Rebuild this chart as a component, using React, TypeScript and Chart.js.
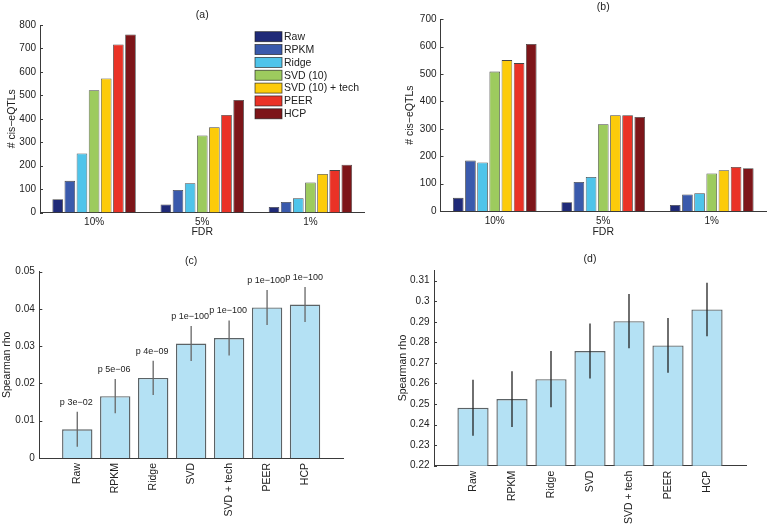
import React, { useEffect, useRef } from "react";
import { Chart, registerables } from "chart.js";
Chart.register(...registerables);

const FONT = '"Liberation Sans", Arial, Helvetica, sans-serif';
const CW = 770;
const CH = 526;

// ---------- data ----------
const fdrLabels = ["10%", "5%", "1%"];
const methodNames = ["Raw", "RPKM", "Ridge", "SVD (10)", "SVD (10) + tech", "PEER", "HCP"];
const methodColors = ["#1f2a78", "#3a5aac", "#4fc4ea", "#9dcb5e", "#fccb0a", "#ea3226", "#7d1519"];

// panel (a): values per method across FDR 10%, 5%, 1%
const aRaw = [57, 34, 24];
const aRPKM = [135, 96, 45];
const aRidge = [252, 125, 61];
const aSVD = [522, 329, 128];
const aSVDtech = [572, 364, 164];
const aPEER = [717, 416, 181];
const aHCP = [760, 480, 204];

// panel (b)
const bRaw = [48, 32, 22];
const bRPKM = [184, 106, 60];
const bRidge = [177, 124, 65];
const bSVD = [509, 317, 137];
const bSVDtech = [551, 350, 149];
const bPEER = [540, 350, 161];
const bHCP = [610, 343, 156];

// panels (c), (d)
const cdLabels = ["Raw", "RPKM", "Ridge", "SVD", "SVD + tech", "PEER", "HCP"];
const cValues = [0.0077, 0.0166, 0.0215, 0.0307, 0.0322, 0.0404, 0.0412];
const cErr = [0.0047, 0.0046, 0.0046, 0.0047, 0.0047, 0.0047, 0.0047];
const cPvals = ["p 3e\u221202", "p 5e\u221206", "p 4e\u221209", "p 1e\u2212100", "p 1e\u2212100", "p 1e\u2212100", "p 1e\u2212100"];
const dValues = [0.2482, 0.2524, 0.2621, 0.2758, 0.2903, 0.2785, 0.296];
const dErr = [0.0136, 0.0136, 0.0137, 0.0134, 0.0132, 0.0133, 0.013];

const cTickValues = [0, 0.01, 0.02, 0.03, 0.04, 0.05];
const dTickValues = [0.22, 0.23, 0.24, 0.25, 0.26, 0.27, 0.28, 0.29, 0.3, 0.31];
const cRange = { min: 0, max: 0.05 };
const dRange = { min: 0.22, max: 0.315 };

// ---------- helpers ----------
const fmt = (v: number) => String(Math.round(v * 1000) / 1000);
const TXT = "#222";
const AXIS = "#3a3a3a";

function makeTitle(text: string, dy: number) {
  return {
    id: "panelTitle",
    afterDraw(chart: any) {
      const { ctx, chartArea } = chart;
      ctx.save();
      ctx.font = `10.5px ${FONT}`;
      ctx.fillStyle = TXT;
      ctx.textAlign = "center";
      ctx.textBaseline = "middle";
      ctx.fillText(text, (chartArea.left + chartArea.right) / 2, chartArea.top - dy);
      ctx.restore();
    },
  };
}

const inwardTicks = {
  id: "inwardTicks",
  afterDraw(chart: any) {
    const { ctx, chartArea } = chart;
    const y = chart.scales.y;
    ctx.save();
    ctx.strokeStyle = AXIS;
    ctx.lineWidth = 1;
    for (const t of y.ticks) {
      const py = Math.round(y.getPixelForValue(t.value)) + 0.5;
      ctx.beginPath();
      ctx.moveTo(chartArea.left, py);
      ctx.lineTo(chartArea.left + 3, py);
      ctx.stroke();
    }
    ctx.restore();
  },
};

function makeLegend(x: number, y0: number, row: number, bw: number, bh: number) {
  return {
    id: "boxLegend",
    afterDraw(chart: any) {
      const { ctx } = chart;
      ctx.save();
      ctx.font = `10.5px ${FONT}`;
      ctx.textAlign = "left";
      ctx.textBaseline = "middle";
      chart.data.datasets.forEach((ds: any, i: number) => {
        const y = y0 + i * row;
        ctx.fillStyle = ds.backgroundColor;
        ctx.fillRect(x, y, bw, bh);
        ctx.strokeStyle = "rgba(30,30,30,0.8)";
        ctx.lineWidth = 0.8;
        ctx.strokeRect(x, y, bw, bh);
        ctx.fillStyle = TXT;
        ctx.fillText(ds.label, x + bw + 2, y + bh / 2 + 0.5);
      });
      ctx.restore();
    },
  };
}

function makePLabels(labels: string[], values: number[], errs: number[], dy: number) {
  return {
    id: "pLabels",
    afterDatasetsDraw(chart: any) {
      const { ctx } = chart;
      const xs = chart.scales.x;
      const ys = chart.scales.y;
      ctx.save();
      ctx.font = `9px ${FONT}`;
      ctx.fillStyle = TXT;
      ctx.textAlign = "center";
      ctx.textBaseline = "middle";
      labels.forEach((t, i) => {
        const px = xs.getPixelForValue(i + 1);
        const py = ys.getPixelForValue(values[i] + errs[i]);
        ctx.fillText(t, px - 1, py - dy);
      });
      ctx.restore();
    },
  };
}

function groupedConfig(series: number[][], ymax: number, pad: any, yW: number, xH: number, yTitlePad: number, title: string, titleDy: number, extra: any[]) {
  return {
    type: "bar",
    data: {
      labels: fdrLabels,
      datasets: methodNames.map((n, i) => ({
        label: n,
        data: series[i],
        backgroundColor: methodColors[i],
        borderColor: "rgba(35,35,35,0.85)",
        borderWidth: 0.8,
        categoryPercentage: 0.785,
        barPercentage: 0.875,
      })),
    },
    options: {
      responsive: false,
      animation: false,
      events: [],
      layout: { padding: pad },
      plugins: { legend: { display: false }, tooltip: { enabled: false }, title: { display: false } },
      scales: {
        x: {
          offset: true,
          grid: { display: false, drawTicks: false },
          border: { display: true, color: AXIS, width: 1 },
          ticks: { font: { family: FONT, size: 10 }, color: TXT, padding: 4, maxRotation: 0 },
          title: { display: true, text: "FDR", font: { family: FONT, size: 10.5 }, color: TXT, padding: { top: 0, bottom: 0 } },
          afterFit: (s: any) => { s.height = xH; },
        },
        y: {
          min: 0,
          max: ymax,
          grid: { display: false, drawTicks: false },
          border: { display: true, color: AXIS, width: 1 },
          ticks: { stepSize: 100, font: { family: FONT, size: 10 }, color: TXT, padding: 4 },
          title: { display: true, text: "# cis\u2212eQTLs", font: { family: FONT, size: 10.5 }, color: TXT, padding: { top: yTitlePad, bottom: 0 } },
          afterFit: (s: any) => { s.width = yW; },
        },
      },
    },
    plugins: [makeTitle(title, titleDy), inwardTicks, ...extra],
  };
}

function rhoConfig(values: number[], errs: number[], range: any, tickValues: number[], pad: any, yW: number, xH: number, yTitlePad: number, title: string, titleDy: number, errColor: string, extra: any[]) {
  const labels = ["", ...cdLabels, ""];
  const barData = [null, ...values, null];
  const errData = [null, ...values.map((v, i) => [v - errs[i], v + errs[i]]), null];
  return {
    type: "bar",
    data: {
      labels,
      datasets: [
        {
          label: "err",
          data: errData,
          backgroundColor: errColor,
          borderWidth: 0,
          grouped: false,
          maxBarThickness: 1.3,
          order: 1,
        },
        {
          label: "rho",
          data: barData,
          backgroundColor: "#b4e1f4",
          borderColor: "#5c6366",
          borderWidth: 1.4,
          grouped: false,
          categoryPercentage: 1,
          barPercentage: 0.8,
          order: 2,
        },
      ],
    },
    options: {
      responsive: false,
      animation: false,
      events: [],
      layout: { padding: pad },
      plugins: { legend: { display: false }, tooltip: { enabled: false }, title: { display: false } },
      scales: {
        x: {
          offset: false,
          grid: { display: false, drawTicks: false },
          border: { display: true, color: AXIS, width: 1 },
          ticks: { font: { family: FONT, size: 10.5 }, color: TXT, padding: 5, minRotation: 90, maxRotation: 90, autoSkip: false },
          afterFit: (s: any) => { s.height = xH; },
        },
        y: {
          min: range.min,
          max: range.max,
          grid: { display: false, drawTicks: false },
          border: { display: true, color: AXIS, width: 1 },
          ticks: { font: { family: FONT, size: 10 }, color: TXT, padding: 4.5, callback: (v: any) => fmt(Number(v)) },
          afterBuildTicks: (s: any) => {
            s.ticks = tickValues.map((v) => ({ value: v }));
          },
          title: { display: true, text: "Spearman rho", font: { family: FONT, size: 10.5 }, color: TXT, padding: { top: yTitlePad, bottom: 0 } },
          afterFit: (s: any) => { s.width = yW; },
        },
      },
    },
    plugins: [makeTitle(title, titleDy), inwardTicks, ...extra],
  };
}

function ChartCanvas({ config }: { config: any }) {
  const ref = useRef<HTMLCanvasElement | null>(null);
  useEffect(() => {
    if (!ref.current) return;
    const ch = new Chart(ref.current, config);
    return () => ch.destroy();
  }, [config]);
  return <canvas ref={ref} width={CW} height={CH} style={{ position: "absolute", left: 0, top: 0, width: CW, height: CH }} />;
}

const cfgA = groupedConfig(
  [aRaw, aRPKM, aRidge, aSVD, aSVDtech, aPEER, aHCP],
  800,
  { left: 0, top: 25, right: 405.5, bottom: 287.7 },
  40, 25.8, 5.7, "(a)", 10,
  [makeLegend(255, 31.7, 12.85, 27, 10)]
);
const cfgB = groupedConfig(
  [bRaw, bRPKM, bRidge, bSVD, bSVDtech, bPEER, bHCP],
  700,
  { left: 390, top: 19.3, right: 4, bottom: 287.7 },
  50.5, 27.3, 13.7, "(b)", 12,
  []
);
const cfgC = rhoConfig(
  cValues, cErr, cRange, cTickValues,
  { left: 0, top: 271.7, right: 427, bottom: 0 },
  39.3, 68, 0.4, "(c)", 11, "#666",
  [makePLabels(cPvals, cValues, cErr, 9.5)]
);
const cfgD = rhoConfig(
  dValues, dErr, dRange, dTickValues,
  { left: 390, top: 270.4, right: 24, bottom: 0 },
  44, 60.3, 7, "(d)", 11.4, "#222",
  []
);

export default function App() {
  return (
    <div style={{ position: "fixed", left: 0, top: 0, width: CW, height: CH, background: "#fff", overflow: "hidden" }}>
      <ChartCanvas config={cfgA} />
      <ChartCanvas config={cfgB} />
      <ChartCanvas config={cfgC} />
      <ChartCanvas config={cfgD} />
    </div>
  );
}
